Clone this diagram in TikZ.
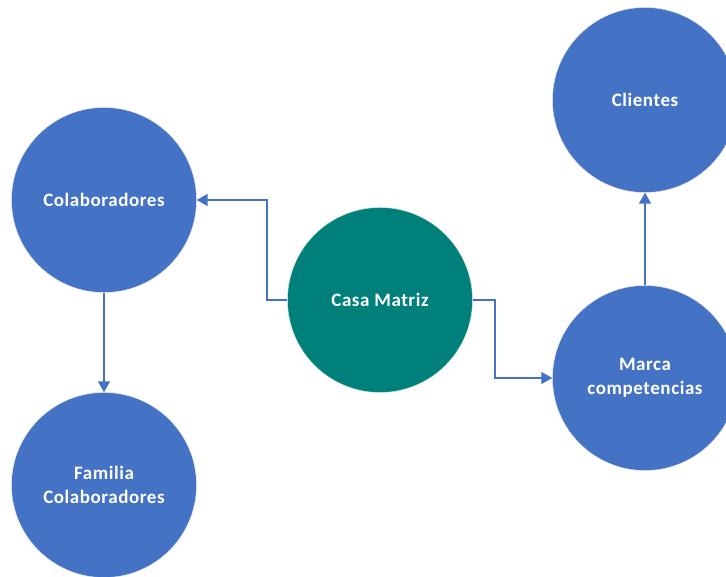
\documentclass[tikz,border=0pt]{standalone}
\usepackage{fontspec}
\setmainfont{Carlito}
\newfontfamily\labelfont[LetterSpace=3]{Carlito}
\usetikzlibrary{arrows.meta}
\definecolor{nodeblue}{RGB}{68,114,196}
\definecolor{nodeteal}{RGB}{0,128,122}
\begin{document}
\begin{tikzpicture}[x=1pt,y=-1pt,
  bubble/.style={circle,fill=nodeblue,draw=white!80!gray,line width=0.4pt,minimum size=185pt,inner sep=0pt,
    text=white,font=\labelfont\bfseries\fontsize{19}{24}\selectfont,align=center},
  hub/.style={bubble,fill=nodeteal},
  link/.style={draw=nodeblue,line width=1.5pt,-{Triangle[length=11pt,width=12pt]}}]
\useasboundingbox (0,0) rectangle (726,577);
\node[bubble] (colab) at (104,200) {Colaboradores};
\node[bubble] (familia) at (104,485) {Familia\\Colaboradores};
\node[hub] (casa) at (380,300) {Casa Matriz};
\node[bubble] (clientes) at (645,100) {Clientes};
\node[bubble] (marca) at (645,378) {Marca\\competencias};
\draw[link] (casa.west) -- (267,300) |- (colab.east);
\draw[link] (casa.east) -- (495,300) |- (marca.west);
\draw[link] (colab.south) -- (familia.north);
\draw[link] (marca.north) -- (clientes.south);
\end{tikzpicture}
\end{document}
